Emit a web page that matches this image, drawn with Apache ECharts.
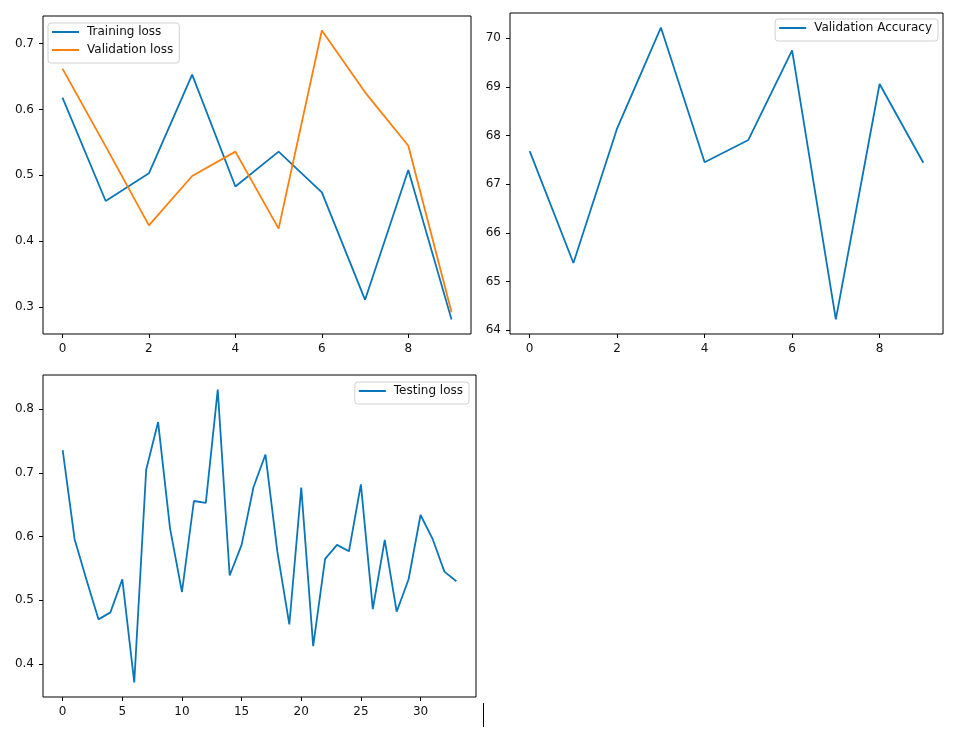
<!DOCTYPE html>
<html>
<head>
<meta charset="utf-8">
<script src="https://cdn.jsdelivr.net/npm/echarts@6/dist/echarts.min.js"></script>
<style>
html,body{margin:0;padding:0;background:#fff;}
#chart{width:958px;height:739px;}
</style>
</head>
<body>
<div id="chart"></div>
<script>
// ---- data ----
const trainingLoss = [0.618, 0.461, 0.503, 0.653, 0.483, 0.536, 0.474, 0.311, 0.508, 0.281];
const validationLoss = [0.662, 0.544, 0.424, 0.499, 0.536, 0.419, 0.720, 0.626, 0.545, 0.292];
const validationAccuracy = [67.68, 65.38, 68.15, 70.22, 67.45, 67.91, 69.75, 64.22, 69.06, 67.44];
const testingLoss = [0.736, 0.596, 0.532, 0.470, 0.481, 0.533, 0.371, 0.705, 0.780, 0.613,
                     0.513, 0.656, 0.653, 0.831, 0.539, 0.587, 0.678, 0.729, 0.576, 0.462,
                     0.677, 0.428, 0.565, 0.587, 0.577, 0.682, 0.486, 0.595, 0.482, 0.533,
                     0.634, 0.597, 0.545, 0.530];
const xTicksTop = [0, 2, 4, 6, 8];
const xTicksBottom = [0, 5, 10, 15, 20, 25, 30];
const yTicksLoss = [0.3, 0.4, 0.5, 0.6, 0.7];
const yTicksAcc = [64, 65, 66, 67, 68, 69, 70];
const yTicksTest = [0.4, 0.5, 0.6, 0.7, 0.8];

const BLUE = '#0a76ba';
const ORANGE = '#ff7f0e';
const FONT = 'DejaVu Sans';
const FS = 12;

function pairs(arr){ return arr.map((v,i)=>[i,v]); }
function pad(arr){ const mn=Math.min(...arr), mx=Math.max(...arr); const d=(mx-mn)*0.05; return [mn-d, mx+d]; }

const xr0 = pad(trainingLoss.map((_,i)=>i));
const yr0 = pad(trainingLoss.concat(validationLoss));
const xr1 = pad(validationAccuracy.map((_,i)=>i));
const yr1 = pad(validationAccuracy);
const xr2 = pad(testingLoss.map((_,i)=>i));
const yr2 = pad(testingLoss);

function xAxis(grid, r, ticks){
  return {type:'value', gridIndex:grid, min:r[0], max:r[1], splitLine:{show:false},
    axisLine:{show:false, onZero:false},
    axisTick:{show:true, length:4, lineStyle:{color:'#000', width:1}, customValues:ticks},
    axisLabel:{color:'#111', fontFamily:FONT, fontSize:FS, margin:9, customValues:ticks,
      formatter:v=>String(v)}};
}
function yAxis(grid, r, ticks, fmt){
  return {type:'value', gridIndex:grid, min:r[0], max:r[1], splitLine:{show:false},
    axisLine:{show:false, onZero:false},
    axisTick:{show:true, length:4, lineStyle:{color:'#000', width:1}, customValues:ticks},
    axisLabel:{color:'#111', fontFamily:FONT, fontSize:FS, margin:9, customValues:ticks,
      formatter:fmt}};
}
function legend(names, pos){
  return Object.assign({
    orient:'vertical', data:names, icon:'rect', itemWidth:27, itemHeight:2, itemGap:4,
    padding:[2,6,6,4], backgroundColor:'rgba(255,255,255,0.8)', borderColor:'#d0d0d0',
    borderWidth:1, borderRadius:3, selectedMode:false,
    textStyle:{fontFamily:FONT, fontSize:FS, color:'#111', lineHeight:14, padding:[0,0,0,3]}
  }, pos);
}
function line(name, data, xi, yi, color){
  return {type:'line', name, data:pairs(data), xAxisIndex:xi, yAxisIndex:yi,
    showSymbol:false, symbol:'none', lineStyle:{color, width:1.8}, itemStyle:{color},
    z:3};
}

const chart = echarts.init(document.getElementById('chart'), null, {renderer:'canvas'});
chart.setOption({
  animation:false,
  backgroundColor:'#fff',
  grid:[
    {left:43, top:16, width:428, height:318, show:true, borderColor:'#000', borderWidth:1, backgroundColor:'transparent'},
    {left:510, top:13, width:433, height:321, show:true, borderColor:'#000', borderWidth:1, backgroundColor:'transparent'},
    {left:43, top:375, width:433, height:322, show:true, borderColor:'#000', borderWidth:1, backgroundColor:'transparent'}
  ],
  xAxis:[xAxis(0,xr0,xTicksTop), xAxis(1,xr1,xTicksTop), xAxis(2,xr2,xTicksBottom)],
  yAxis:[
    yAxis(0,yr0,yTicksLoss,v=>v.toFixed(1)),
    yAxis(1,yr1,yTicksAcc,v=>String(Math.round(v))),
    yAxis(2,yr2,yTicksTest,v=>v.toFixed(1))
  ],
  legend:[
    legend(['Training loss','Validation loss'], {left:48, top:23}),
    legend(['Validation Accuracy'], {right:20, top:19}),
    legend(['Testing loss'], {right:489, top:382})
  ],
  series:[
    line('Training loss', trainingLoss, 0, 0, BLUE),
    line('Validation loss', validationLoss, 0, 0, ORANGE),
    line('Validation Accuracy', validationAccuracy, 1, 1, BLUE),
    line('Testing loss', testingLoss, 2, 2, BLUE)
  ],
  graphic:[
    {type:'line', shape:{x1:483.5, y1:703, x2:483.5, y2:727}, style:{stroke:'#000', lineWidth:1}}
  ]
});
</script>
</body>
</html>
